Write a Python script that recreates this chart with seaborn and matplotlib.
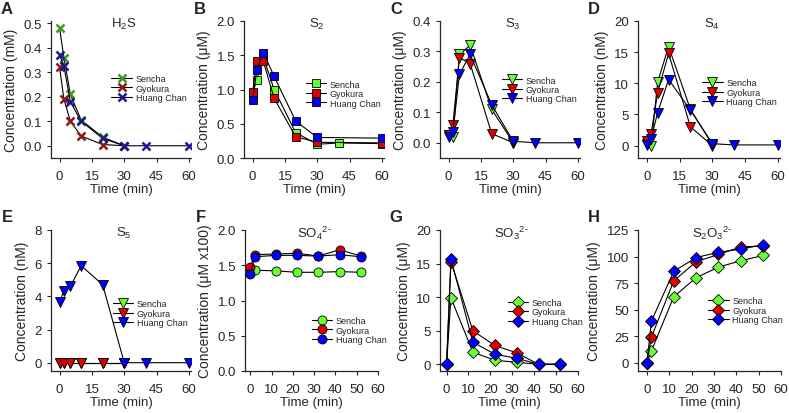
import matplotlib
matplotlib.use("Agg")
import matplotlib.pyplot as plt
import numpy as np
import pandas as pd
import seaborn as sns

teas = ["Sencha", "Gyokura", "Huang Chan"]

# sampling times (min)
t_short = [0, 2, 5, 10, 20, 30]
t_long = [0, 2, 5, 10, 20, 30, 40, 60]
t_s2_other = [0, 2, 5, 10, 20, 30, 60]
t_anion = [0, 2, 12, 22, 32, 42, 52]

# A  H2S (mM)
h2s_sencha = [0.48, 0.36, 0.21, 0.105, 0.035, 0.0]
h2s_gyokura = [0.32, 0.19, 0.10, 0.04, 0.005, 0.0]
h2s_huang = [0.37, 0.325, 0.18, 0.10, 0.03, 0.0, 0.0, 0.0]

# B  S2 (uM)
s2_sencha = [0.95, 1.14, 1.47, 1.00, 0.37, 0.20, 0.22, 0.21]
s2_gyokura = [0.96, 1.42, 1.41, 0.87, 0.31, 0.23, 0.22]
s2_huang = [0.85, 1.29, 1.54, 1.19, 0.54, 0.30, 0.29]

# C  S3 (uM)
s3_sencha = [0.025, 0.02, 0.29, 0.32, 0.11, 0.0]
s3_gyokura = [0.025, 0.06, 0.28, 0.26, 0.03, 0.0]
s3_huang = [0.02, 0.035, 0.225, 0.29, 0.125, 0.005, 0.0, 0.0]

# D  S4 (nM)
s4_sencha = [0.2, 0.0, 10.2, 15.9, 5.8, 0.2]
s4_gyokura = [0.8, 1.9, 8.5, 14.8, 3.0, 0.0]
s4_huang = [0.1, 1.1, 5.3, 10.6, 5.7, 0.3, 0.1, 0.1]

# E  S5 (nM)
s5_sencha = [0.0, 0.0, 0.0, 0.0, 0.0, 0.0]
s5_gyokura = [0.0, 0.0, 0.0, 0.0, 0.0, 0.0]
s5_huang = [3.65, 4.35, 4.6, 5.85, 4.7, 0.0, 0.0, 0.0]

# F  SO4 2- (uM x100)
so4_sencha = [1.41, 1.43, 1.42, 1.40, 1.40, 1.41, 1.40]
so4_gyokura = [1.47, 1.65, 1.66, 1.67, 1.63, 1.72, 1.63]
so4_huang = [1.37, 1.62, 1.64, 1.64, 1.63, 1.65, 1.62]

# G  SO3 2- (uM)
so3_sencha = [0.0, 9.9, 1.8, 0.6, 0.3, 0.0, 0.0]
so3_gyokura = [0.0, 15.3, 5.0, 2.8, 1.7, 0.0, 0.0]
so3_huang = [0.0, 15.7, 3.3, 1.5, 0.9, 0.0, 0.0]

# H  S2O3 2- (uM)
s2o3_sencha = [0, 11, 62, 80, 90, 96, 101]
s2o3_gyokura = [0, 24, 77, 95, 102, 109, 110]
s2o3_huang = [0, 39, 86, 99, 104, 107, 111]

bright = ["#66ff33", "#e00000", "#0000ff"]
dark = ["#3d9a1f", "#8b1a1a", "#1a1a8c"]

sns.set_style("ticks")
plt.rcParams["font.family"] = ["Liberation Sans", "DejaVu Sans"]
plt.rcParams["mathtext.fontset"] = "custom"
plt.rcParams["mathtext.rm"] = "Liberation Sans"
plt.rcParams["mathtext.it"] = "Liberation Sans"

fig = plt.figure(figsize=(7.89, 4.14), dpi=100)

W, H = 789, 414


def make_ax(left_px, top_px, width_px, bottom_px):
    return fig.add_axes([left_px / W, (H - bottom_px) / H,
                         width_px / W, (bottom_px - top_px) / H])


def draw_panel(ax, times, series, marker, colors, ms, title, ylabel,
               xlim, xticks, ylim, yticks, yfmt, leg_xy, letter):
    for tea, t, y, c in zip(teas, times, series, colors):
        df = pd.DataFrame({"Time": t, "Conc": y})
        if marker == "x":
            kw = dict(markeredgecolor=c, markeredgewidth=1.8)
        else:
            kw = dict(markerfacecolor=c, markeredgecolor="black",
                      markeredgewidth=0.6)
        sns.lineplot(data=df, x="Time", y="Conc", ax=ax, color="black",
                     lw=0.8, marker=marker, markersize=ms, label=tea,
                     errorbar=None, legend=False, **kw)
    ax.set_xlim(*xlim)
    ax.set_ylim(*ylim)
    ax.set_xticks(xticks)
    ax.set_yticks(yticks)
    ax.set_yticklabels([yfmt.format(v) for v in yticks])
    ax.set_xlabel("Time (min)", fontsize=9.5, labelpad=1)
    ax.set_ylabel(ylabel, fontsize=10, labelpad=4)
    ax.tick_params(labelsize=9.5, length=3, width=0.8, pad=3.5)
    ax.tick_params(axis="x", pad=5.5)
    for s in ["top", "right"]:
        ax.spines[s].set_visible(False)
    for s in ["left", "bottom"]:
        ax.spines[s].set_linewidth(0.9)
    ax.text(0.52, 0.98, title, transform=ax.transAxes, ha="center",
            va="center", fontsize=9.5)
    ax.legend(loc="center left", bbox_to_anchor=leg_xy, frameon=False,
              fontsize=6.5, handlelength=2.3, handletextpad=0.4,
              labelspacing=0.05, borderpad=0, borderaxespad=0)
    bb = ax.get_position()
    fig.text(bb.x0 - 44 / W, bb.y1 + 13 / H, letter, fontsize=12,
             fontweight="bold", ha="center", va="center")


top_t, top_b = 22, 159
bot_t, bot_b = 231, 372
xt_top = [0, 15, 30, 45, 60]
xt_bot = [0, 10, 20, 30, 40, 50, 60]

ax = make_ax(51, top_t, 140, top_b)
draw_panel(ax, [t_short, t_short, t_long], [h2s_sencha, h2s_gyokura, h2s_huang],
           "x", dark, 5.5, r"H$_2$S", "Concentration (mM)", (-4, 61), xt_top,
           (-0.05, 0.51), [0, 0.1, 0.2, 0.3, 0.4, 0.5], "{:.1f}", (0.43, 0.51), "A")

ax = make_ax(244, top_t, 140, top_b)
draw_panel(ax, [t_long, t_s2_other, t_s2_other], [s2_sencha, s2_gyokura, s2_huang],
           "s", bright, 6, r"S$_2$", "Concentration (\u03bcM)", (-4, 61), xt_top,
           (0, 2.0), [0, 0.5, 1.0, 1.5, 2.0], "{:.1f}", (0.44, 0.47), "B")

ax = make_ax(440, top_t, 140, top_b)
draw_panel(ax, [t_short, t_short, t_long], [s3_sencha, s3_gyokura, s3_huang],
           "v", bright, 6.5, r"S$_3$", "Concentration (\u03bcM)", (-4, 61), xt_top,
           (-0.05, 0.4), [0, 0.1, 0.2, 0.3, 0.4], "{:.1f}", (0.44, 0.50), "C")

ax = make_ax(638, top_t, 142, top_b)
draw_panel(ax, [t_short, t_short, t_long], [s4_sencha, s4_gyokura, s4_huang],
           "v", bright, 6.5, r"S$_4$", "Concentration (nM)", (-4, 61), xt_top,
           (-2, 20), [0, 5, 10, 15, 20], "{:.0f}", (0.45, 0.48), "D")

ax = make_ax(51, bot_t, 140, bot_b)
draw_panel(ax, [t_short, t_short, t_long], [s5_sencha, s5_gyokura, s5_huang],
           "v", bright, 6.5, r"S$_5$", "Concentration (nM)", (-4, 61), xt_top,
           (-0.5, 8), [0, 2, 4, 6, 8], "{:.0f}", (0.44, 0.41), "E")

ax = make_ax(245, bot_t, 133, bot_b)
draw_panel(ax, [t_anion] * 3, [so4_sencha, so4_gyokura, so4_huang],
           "o", bright, 6.5, r"SO$_4$$^{2\text{-}}$", "Concentration (\u03bcM x100)",
           (-2.5, 60), xt_bot, (0, 2.0), [0, 0.5, 1.0, 1.5, 2.0], "{:.1f}",
           (0.50, 0.29), "F")

ax = make_ax(440, bot_t, 138, bot_b)
draw_panel(ax, [t_anion] * 3, [so3_sencha, so3_gyokura, so3_huang],
           "D", bright, 6, r"SO$_3$$^{2\text{-}}$", "Concentration (\u03bcM)",
           (-3, 60), xt_bot, (-1, 20), [0, 5, 10, 15, 20], "{:.0f}",
           (0.49, 0.42), "G")

ax = make_ax(638, bot_t, 143, bot_b)
draw_panel(ax, [t_anion] * 3, [s2o3_sencha, s2o3_gyokura, s2o3_huang],
           "D", bright, 6, r"S$_2$O$_3$$^{2\text{-}}$", "Concentration (\u03bcM)",
           (-4, 60), xt_bot, (-8, 125), [0, 25, 50, 75, 100, 125], "{:.0f}",
           (0.49, 0.43), "H")

fig.savefig("out.png", dpi=100)
